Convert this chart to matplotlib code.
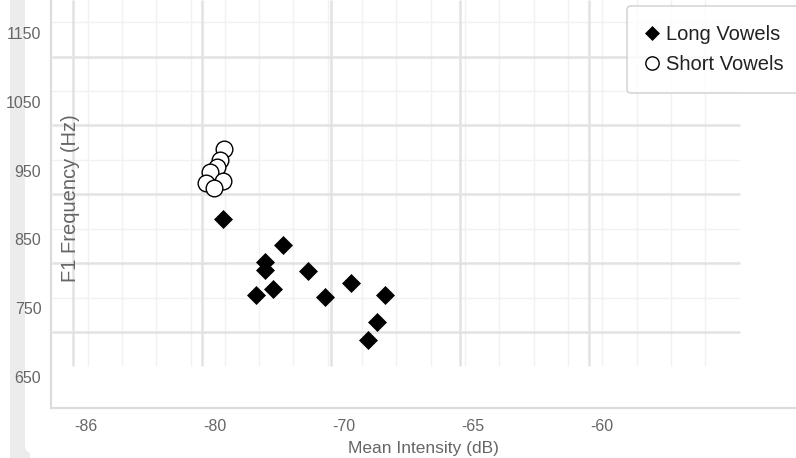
import numpy as np
import matplotlib.pyplot as plt
from matplotlib.patches import Rectangle, FancyBboxPatch

plt.rcParams["font.family"] = ["Liberation Sans", "DejaVu Sans"]

# long vowels: mean intensity (dB), F1 (Hz)
long_db = [-79.17, -76.85, -77.55, -77.55, -77.90, -77.24, -75.88, -75.22, -74.21, -72.90, -73.21, -73.55]
long_f1 = [864, 826, 802, 790, 754, 762, 789, 751, 771, 754, 714, 688]

# short vowels
short_db = [-79.14, -79.29, -79.41, -79.68, -79.17, -79.83, -79.52]
short_f1 = [966, 950, 940, 932, 919, 916, 909]

xtick_pos = [-84.5, -79.5, -74.5, -69.5, -64.5]
xtick_labels = ["-86", "-80", "-70", "-65", "-60"]
ytick_pos = [1134.4, 1034.4, 934.4, 834.4, 734.4, 634.4]
ytick_labels = ["1150", "1050", "950", "850", "750", "650"]

W, H = 796, 458
fig = plt.figure(figsize=(W / 100, H / 100), dpi=100)

def fx(px):
    return px / W

def fy(py):
    return 1 - py / H

# page background: grey strip and white card
fig.patches.append(Rectangle((fx(10), 0), fx(20), 1, transform=fig.transFigure,
                             facecolor="#ececec", edgecolor="none", zorder=-3))
fig.patches.append(FancyBboxPatch((fx(25), fy(455)), 1.2, 1.2, transform=fig.transFigure,
                                  boxstyle="round,pad=0,rounding_size=0.02",
                                  facecolor="white", edgecolor="none", zorder=-2))

ax = fig.add_axes([fx(51), fy(408), 1 - fx(51), 1 - fy(408)])
ax.set_facecolor("none")

x0, x1 = -85.84, -56.97
y0, y1 = 589.4, 1182.4
ax.set_xlim(x0, x1)
ax.set_ylim(y0, y1)

# grid
gx_left, gx_right = -85.8, -59.14
gy_bottom = 650.4
minor_x = -84.42 + 1.3295 * np.arange(19)
ax.vlines(minor_x, gy_bottom, y1, color="#f1f1f1", lw=1.0, zorder=0)
ax.hlines([1150, 1050, 950, 850, 750], gx_left, gx_right, color="#f1f1f1", lw=1.0, zorder=0)
ax.vlines([-85, -80, -75, -70, -65], gy_bottom, y1, color="#e2e2e2", lw=1.8, zorder=1)
ax.hlines([1100, 1000, 900, 800, 700], gx_left, gx_right, color="#e2e2e2", lw=1.8, zorder=1)

ax.plot(long_db, long_f1, "D", color="black", markersize=9.4, markeredgewidth=0.5,
        label="Long Vowels", zorder=3)
ax.plot(short_db, short_f1, "o", markerfacecolor="white", markeredgecolor="black",
        markersize=12, markeredgewidth=1.0, label="Short Vowels", zorder=3)

for s in ["top", "right"]:
    ax.spines[s].set_visible(False)
for s in ["left", "bottom"]:
    ax.spines[s].set_color("#dcdcdc")
    ax.spines[s].set_linewidth(1.6)

ax.set_xticks(xtick_pos, xtick_labels)
ax.set_yticks(ytick_pos, ytick_labels)
ax.tick_params(length=0, labelsize=11.5, labelcolor="#666666")
ax.tick_params(axis="x", pad=8)
ax.tick_params(axis="y", pad=7)

ax.set_xlabel("Mean Intensity (dB)", fontsize=12.5, color="#666666", labelpad=5)
ax.text(fx(70 - 51) / (1 - fx(51)), 0.515, "F1 Frequency (Hz)", transform=ax.transAxes,
        rotation=90, ha="center", va="center", fontsize=14.5, color="#666666")

leg = ax.legend(loc="upper left", bbox_to_anchor=(fx(627), fy(6)), bbox_transform=fig.transFigure,
                fontsize=14.5, markerscale=0.8, frameon=True, fancybox=True, borderaxespad=0,
                borderpad=0.95, handlelength=0.55, handletextpad=0.45, labelspacing=0.55)
leg.get_frame().set_edgecolor("#cccccc")
leg.get_frame().set_linewidth(1.2)
for t in leg.get_texts():
    t.set_color("#222222")

fig.savefig("out.png", dpi=100)
